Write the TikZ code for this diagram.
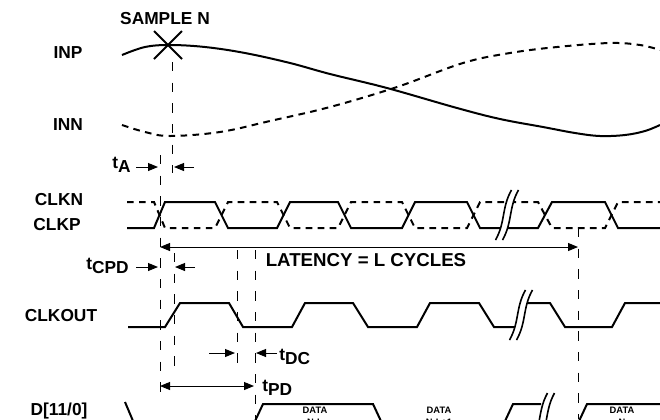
\documentclass[tikz,border=0pt]{standalone}
\usepackage{fontspec}
\setmainfont{Liberation Sans}
\usetikzlibrary{arrows.meta,positioning,calc}

\newcommand{\tdelay}[1]{t\raisebox{-0.4ex}{#1}}
% break mark: centre x, top y, bottom y
\newcommand{\wavebreak}[3]{%
  \fill[white] ({#1+4.5},#2) .. controls ({#1-5.5},{#2+0.35*(#3-#2)}) and ({#1-1.5},{#3-0.35*(#3-#2)}) .. ({#1-11.5},#3)
    -- ({#1-4.5},#3) .. controls ({#1+5.5},{#3-0.35*(#3-#2)}) and ({#1+1.5},{#2+0.35*(#3-#2)}) .. ({#1+11.5},#2) -- cycle;
  \draw[line width=1.2pt] ({#1+4.5},#2) .. controls ({#1-5.5},{#2+0.35*(#3-#2)}) and ({#1-1.5},{#3-0.35*(#3-#2)}) .. ({#1-11.5},#3);
  \draw[line width=1.2pt] ({#1+11.5},#2) .. controls ({#1+1.5},{#2+0.35*(#3-#2)}) and ({#1+5.5},{#3-0.35*(#3-#2)}) .. ({#1-4.5},#3);
}

\tikzset{
  sig/.style={line width=1.5pt},
  sigdash/.style={sig, dash pattern=on 5pt off 4pt},
  guide/.style={line width=0.6pt, dash pattern=on 7pt off 8.5pt},
  dim/.style={line width=0.7pt, -{Triangle[length=7.5pt,width=6pt]}},
  dimboth/.style={line width=0.7pt, {Triangle[length=7.5pt,width=6pt]}-{Triangle[length=7.5pt,width=6pt]}},
  lbl/.style={font=\fontsize{13}{15}\selectfont\bfseries, inner sep=0pt},
  datalbl/.style={font=\fontsize{7}{8.5}\selectfont\bfseries, align=center, inner sep=0pt, anchor=north}
}

\begin{document}
\begin{tikzpicture}[x=0.75pt, y=-0.75pt]
\useasboundingbox (0,0) rectangle (660,419);

% Signal names
\node[lbl] (sample) at (165,19) {SAMPLE N};
\node[lbl] (inp) at (68,53) {INP};
\node[lbl] (inn) at (68,125) {INN};
\node[lbl] (clkn) at (59,200) {CLKN};
\node[lbl] (clkp) at (57,225) {CLKP};
\node[lbl] (clkout) at (61,316) {CLKOUT};
\node[lbl] (dout) at (59,411) {D[11/0]};

% Analog input
\draw[sig] plot[smooth, tension=0.6] coordinates {(122,55) (145,47) (170,45) (205,47) (245,53) (290,63) (330,74) (387,88) (457,108) (500,119) (543,127) (575,133) (600,136) (625,135) (645,131) (660,125)};
\draw[sigdash] plot[smooth, tension=0.6] coordinates {(122,125) (145,132) (170,136) (220,132) (270,121) (330,107) (397,87) (463,63) (510,53) (557,47) (610,43) (640,45) (660,50)};
\draw[line width=1.5pt] (154,31) -- (182,59) (154,59) -- (182,31);

% Clock inputs
\draw[sig] (127,228) -- (154,228) -- (165,202) -- (215,202) -- (228,228) -- (277,228) -- (290,202) -- (338,202) -- (351,228) -- (402,228) -- (415,202) -- (467,202) -- (480,228) -- (538,228) -- (552,202) -- (605,202) -- (618,228) -- (660,228);
\draw[sigdash] (127,202) -- (154,202) -- (165,228) -- (215,228) -- (228,202) -- (277,202) -- (290,228) -- (338,228) -- (351,202) -- (402,202) -- (415,228) -- (467,228) -- (480,202) -- (538,202) -- (552,228) -- (605,228) -- (618,202) -- (660,202);
\wavebreak{507}{190}{240}

% Clock output
\draw[sig] (128,327) -- (165,327) -- (180,303) -- (229,303) -- (243,327) -- (292,327) -- (305,303) -- (353,303) -- (368,327) -- (417,327) -- (430,303) -- (479,303) -- (494,327) -- (517,327);
\draw[sig] (525,303) -- (550,303) -- (565,327) -- (612,327) -- (625,303) -- (660,303);
\wavebreak{521}{290}{340}

% Data output
\draw[sig] (125,402) -- (136,428);
\draw[sig] (249,434) -- (263,404) -- (373,404) -- (387,434);
\draw[sig] (499,434) -- (513,404) -- (541,404);
\draw[sig] (573,434) -- (587,404) -- (660,404);
\wavebreak{543}{393}{445}
\node[datalbl] (dataNL) at (315,407) {DATA\\N-L};
\node[datalbl] (dataNL1) at (439,407) {DATA\\N-L+1};
\node[datalbl] (dataN) at (622,407) {DATA\\N};

% Guide lines
\draw[guide] (172,62) -- (172,173);
\draw[guide] (160,155) -- (160,398);
\draw[guide] (174,253) -- (174,370);
\draw[guide] (237,250) -- (237,370);
\draw[guide] (255,250) -- (255,419);
\draw[guide] (578,228) -- (578,419);

% Timing arrows
\coordinate (tAa) at (136,167); \coordinate (tAb) at (158,167);
\coordinate (tAc) at (194,167); \coordinate (tAd) at (174,167);
\draw[dim] (tAa) -- (tAb);
\draw[dim] (tAc) -- (tAd);
\node[lbl, anchor=east] (tAlbl) at (131,165) {\tdelay{A}};

\coordinate (latL) at (160,247); \coordinate (latR) at (578,247);
\draw[dimboth] (latL) -- (latR);
\node[lbl, font=\fontsize{14}{16}\selectfont\bfseries] (latency) at (366,260) {LATENCY = L CYCLES};

\coordinate (cpda) at (136,267); \coordinate (cpdb) at (158,267);
\coordinate (cpdc) at (195,267); \coordinate (cpdd) at (175,267);
\draw[dim] (cpda) -- (cpdb);
\draw[dim] (cpdc) -- (cpdd);
\node[lbl, anchor=east] (tCPDlbl) at (129,266) {\tdelay{CPD}};

\coordinate (dca) at (209,353); \coordinate (dcb) at (235,353);
\coordinate (dcc) at (277,353); \coordinate (dcd) at (256,353);
\draw[dim] (dca) -- (dcb);
\draw[dim] (dcc) -- (dcd);
\node[lbl, anchor=west] (tDClbl) at (279,357) {\tdelay{DC}};

\coordinate (pdL) at (160,386); \coordinate (pdR) at (254,386);
\draw[dimboth] (pdL) -- (pdR);
\node[lbl, anchor=west] (tPDlbl) at (262,388) {\tdelay{PD}};
\end{tikzpicture}
\end{document}
